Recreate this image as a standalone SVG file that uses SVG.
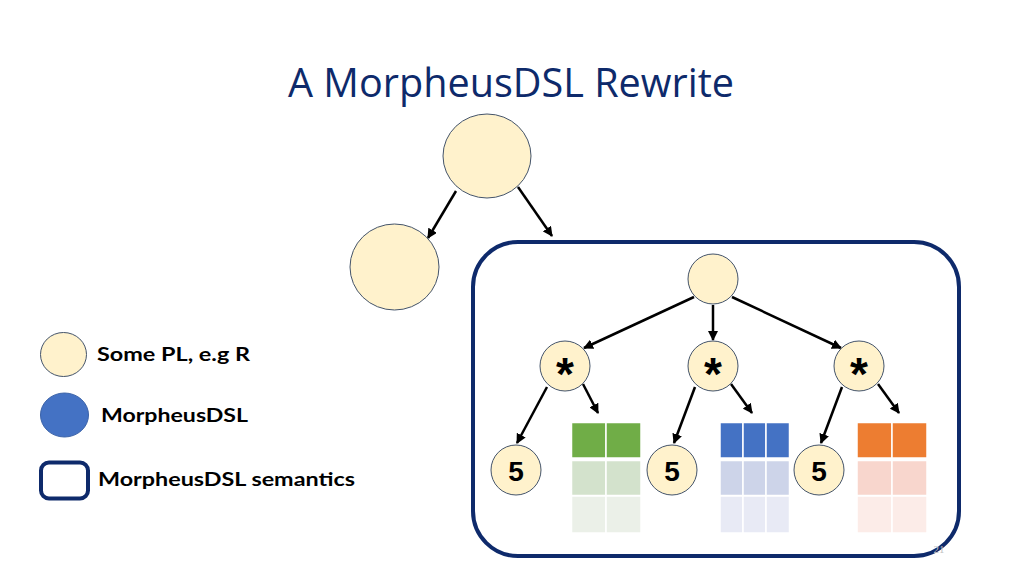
<svg xmlns="http://www.w3.org/2000/svg" width="1024" height="576" viewBox="0 0 1024 576">
<style>
.pl{fill:#FFF2CC;stroke:#44546A;stroke-width:1}
.dsl{fill:#4472C4;stroke:#3A62A8;stroke-width:1}
.sem{fill:none;stroke:#0E2A6B;stroke-width:4}
.edge{stroke:#000;stroke-width:2.5;fill:none;marker-end:url(#ah)}
.lbl{font-family:Lato,"Liberation Sans",sans-serif;font-weight:bold;font-size:19px;fill:#000}
.num{font-family:"Liberation Sans",Arial,sans-serif;font-weight:bold;font-size:28px;fill:#000;text-anchor:middle}
.star{font-family:"Liberation Sans",Arial,sans-serif;font-weight:bold;font-size:46px;fill:#000;text-anchor:middle}
.cell{stroke:#fff;stroke-width:1.5}
</style>
<defs>
<marker id="ah" viewBox="0 0 10 10" refX="9" refY="5" markerWidth="4" markerHeight="4" orient="auto" markerUnits="strokeWidth">
<path d="M0,0 L10,5 L0,10 z" fill="#000"/>
</marker>
</defs>
<rect width="1024" height="576" fill="#fff"/>
<text x="511" y="97" text-anchor="middle" textLength="446" lengthAdjust="spacingAndGlyphs" font-family="'Open Sans','Liberation Sans',sans-serif" font-size="40" fill="#0E2A6B">A MorpheusDSL Rewrite</text>

<g id="semantics-box"><rect class="sem" x="473" y="242" width="486" height="314" rx="45"/></g>

<g id="connectors">
<line class="edge" x1="456" y1="191" x2="428" y2="238"/>
<line class="edge" x1="518" y1="187" x2="552" y2="236"/>
<line class="edge" x1="694" y1="297" x2="584" y2="348"/>
<line class="edge" x1="713" y1="305" x2="713" y2="340"/>
<line class="edge" x1="732" y1="297" x2="841" y2="348"/>
<line class="edge" x1="547" y1="387" x2="517" y2="443"/>
<line class="edge" x1="583" y1="384" x2="598" y2="413"/>
<line class="edge" x1="695" y1="387" x2="674" y2="443"/>
<line class="edge" x1="731" y1="384" x2="752" y2="413"/>
<line class="edge" x1="842" y1="387" x2="821" y2="443"/>
<line class="edge" x1="878" y1="384" x2="899" y2="413"/>
</g>

<g id="top-root"><ellipse class="pl" cx="487" cy="156" rx="44" ry="42"/></g>
<g id="top-left"><ellipse class="pl" cx="394.5" cy="267" rx="44.5" ry="43"/></g>
<g id="root"><circle class="pl" cx="713" cy="279" r="25"/></g>
<g id="mul-1"><circle class="pl" cx="565" cy="366" r="25"/><text class="star" x="565" y="390">*</text></g>
<g id="mul-2"><circle class="pl" cx="713" cy="366" r="25"/><text class="star" x="713" y="390">*</text></g>
<g id="mul-3"><circle class="pl" cx="859" cy="366" r="25"/><text class="star" x="859" y="390">*</text></g>
<g id="five-1"><circle class="pl" cx="516" cy="470" r="25"/><text class="num" x="516" y="481">5</text></g>
<g id="five-2"><circle class="pl" cx="672" cy="470" r="25"/><text class="num" x="672" y="481">5</text></g>
<g id="five-3"><circle class="pl" cx="819" cy="470" r="25"/><text class="num" x="819" y="481">5</text></g>

<g id="table-green">
<rect class="cell" x="571.5" y="422.5" width="34.5" height="35.5" fill="#70AD47"/>
<rect class="cell" x="606" y="422.5" width="35" height="35.5" fill="#70AD47"/>
<rect class="cell" x="571.5" y="460.5" width="34.5" height="35" fill="#D3E2CC"/>
<rect class="cell" x="606" y="460.5" width="35" height="35" fill="#D3E2CC"/>
<rect class="cell" x="571.5" y="496" width="34.5" height="37" fill="#EBF0E8"/>
<rect class="cell" x="606" y="496" width="35" height="37" fill="#EBF0E8"/>
</g>
<g id="table-blue">
<rect class="cell" x="720" y="422.5" width="23" height="35.5" fill="#4472C4"/>
<rect class="cell" x="743" y="422.5" width="23" height="35.5" fill="#4472C4"/>
<rect class="cell" x="766" y="422.5" width="23.5" height="35.5" fill="#4472C4"/>
<rect class="cell" x="720" y="460.5" width="23" height="35" fill="#CDD4E9"/>
<rect class="cell" x="743" y="460.5" width="23" height="35" fill="#CDD4E9"/>
<rect class="cell" x="766" y="460.5" width="23.5" height="35" fill="#CDD4E9"/>
<rect class="cell" x="720" y="496" width="23" height="37" fill="#E8EAF5"/>
<rect class="cell" x="743" y="496" width="23" height="37" fill="#E8EAF5"/>
<rect class="cell" x="766" y="496" width="23.5" height="37" fill="#E8EAF5"/>
</g>
<g id="table-orange">
<rect class="cell" x="857" y="422.5" width="35" height="35.5" fill="#ED7D31"/>
<rect class="cell" x="892" y="422.5" width="35" height="35.5" fill="#ED7D31"/>
<rect class="cell" x="857" y="460.5" width="35" height="35" fill="#F8D6CD"/>
<rect class="cell" x="892" y="460.5" width="35" height="35" fill="#F8D6CD"/>
<rect class="cell" x="857" y="496" width="35" height="37" fill="#FCECE8"/>
<rect class="cell" x="892" y="496" width="35" height="37" fill="#FCECE8"/>
</g>

<g id="legend-pl"><ellipse class="pl" cx="63.5" cy="354.5" rx="23" ry="22"/><text class="lbl" x="97" y="361" textLength="153" lengthAdjust="spacingAndGlyphs">Some PL, e.g R</text></g>
<g id="legend-dsl"><ellipse class="dsl" cx="64.5" cy="415" rx="24" ry="22"/><text class="lbl" x="101" y="422" textLength="147" lengthAdjust="spacingAndGlyphs">MorpheusDSL</text></g>
<g id="legend-sem"><rect class="sem" x="41" y="462.5" width="47" height="36" rx="8"/><text class="lbl" x="98" y="486" textLength="257" lengthAdjust="spacingAndGlyphs">MorpheusDSL semantics</text></g>

<text x="939" y="553" text-anchor="middle" font-family="'Liberation Serif',serif" font-size="11" fill="#BFBFBF">21</text>
</svg>
